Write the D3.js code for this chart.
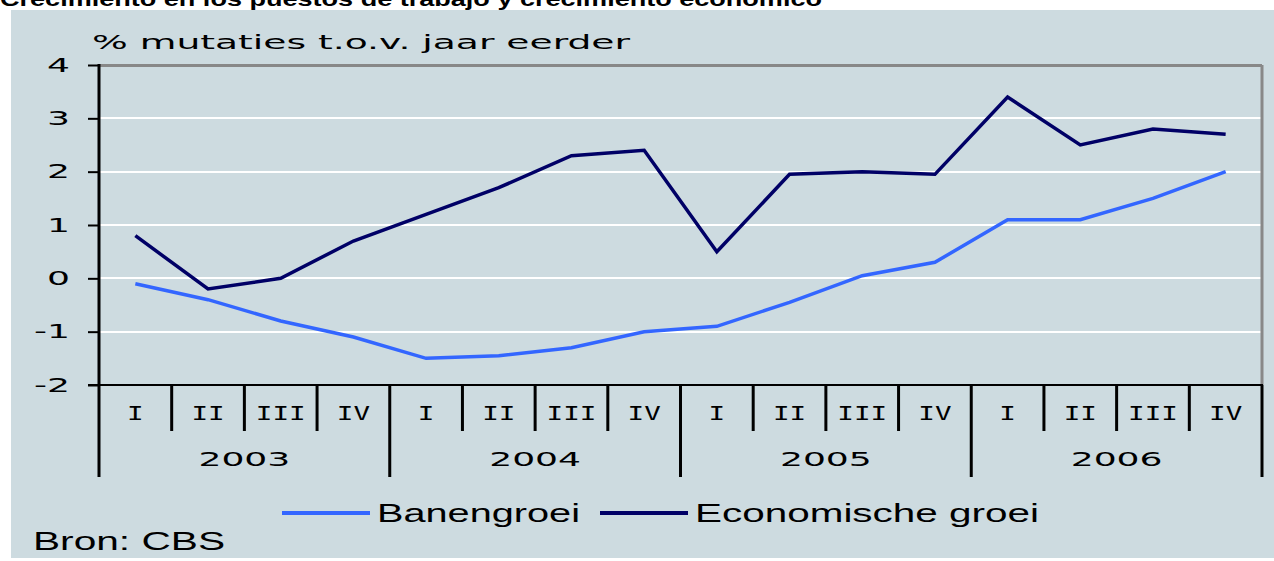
<!DOCTYPE html>
<html>
<head>
<meta charset="utf-8">
<script src="https://cdn.jsdelivr.net/npm/d3@7"></script>
<style>
  body { margin: 0; background: #fff; }
  svg { display: block; }
</style>
</head>
<body>
<script>
// chart data
var quarters = ["I", "II", "III", "IV", "I", "II", "III", "IV",
                "I", "II", "III", "IV", "I", "II", "III", "IV"];
var years = ["2003", "2004", "2005", "2006"];
var banengroei = [-0.1, -0.4, -0.8, -1.1, -1.5, -1.45, -1.3, -1.0,
                  -0.9, -0.45, 0.05, 0.3, 1.1, 1.1, 1.5, 2.0];
var economischeGroei = [0.8, -0.2, 0.0, 0.7, 1.2, 1.7, 2.3, 2.4,
                        0.5, 1.95, 2.0, 1.95, 3.4, 2.5, 2.8, 2.7];
var yTicks = [-2, -1, 0, 1, 2, 3, 4];

var W = 1274, H = 561;
var plot = {left: 99, right: 1262, top: 65, bottom: 385};
var tickFont = "'DejaVu Sans', Verdana, sans-serif";
var monoFont = "'DejaVu Sans Mono', monospace";
var stretchX = 1.9;

var svg = d3.select("body").append("svg")
    .attr("width", W)
    .attr("height", H);

// widen text horizontally, like the stretched original
function stretch(sel, sx) {
  sel.each(function() {
    var len = this.getComputedTextLength();
    d3.select(this)
      .attr("textLength", len * sx)
      .attr("lengthAdjust", "spacingAndGlyphs");
  });
}

// title, mostly cut off at the top (as in the original)
svg.append("text")
    .attr("x", 0)
    .attr("y", 6)
    .attr("font-family", "'Liberation Sans', Arial, sans-serif")
    .attr("font-weight", "bold")
    .attr("font-size", 20)
    .attr("textLength", 822)
    .attr("lengthAdjust", "spacingAndGlyphs")
    .text("Crecimiento en los puestos de trabajo y crecimiento económico");

// grey panel
svg.append("rect")
    .attr("x", 11)
    .attr("y", 10)
    .attr("width", W - 11)
    .attr("height", 548)
    .attr("fill", "#cddbe0");

var xScale = d3.scaleBand()
    .domain(d3.range(quarters.length))
    .range([plot.left, plot.right]);
var yearScale = d3.scaleBand()
    .domain(years)
    .range([plot.left, plot.right]);
var yScale = d3.scaleLinear()
    .domain([-2, 4])
    .range([plot.bottom, plot.top]);

// gridlines
svg.append("g")
    .attr("shape-rendering", "crispEdges")
    .selectAll("line")
    .data(yTicks.filter(function(d) { return d > -2; }))
    .join("line")
    .attr("x1", plot.left)
    .attr("x2", plot.right)
    .attr("y1", function(d) { return yScale(d); })
    .attr("y2", function(d) { return yScale(d); })
    .attr("stroke", function(d) { return d === 4 ? "#888888" : "#ffffff"; })
    .attr("stroke-width", function(d) { return d === 4 ? 3 : 2; });

// right border
svg.append("line")
    .attr("x1", plot.right)
    .attr("x2", plot.right)
    .attr("y1", plot.top)
    .attr("y2", plot.bottom)
    .attr("stroke", "#888888")
    .attr("stroke-width", 3);

// y axis
var yAxis = svg.append("g")
    .attr("transform", "translate(" + plot.left + ",0)")
    .call(d3.axisLeft(yScale)
        .tickValues(yTicks)
        .tickSize(11)
        .tickPadding(18)
        .tickFormat(function(d) { return String(d); }));
yAxis.select(".domain").remove();
yAxis.selectAll(".tick line").attr("stroke", "#000").attr("stroke-width", 2);
yAxis.selectAll(".tick text")
    .attr("font-family", tickFont)
    .attr("font-size", 19)
    .attr("fill", "#000")
    .call(stretch, stretchX);

svg.append("line")
    .attr("x1", plot.left)
    .attr("x2", plot.left)
    .attr("y1", plot.top - 1)
    .attr("y2", 477)
    .attr("stroke", "#000")
    .attr("stroke-width", 3);

// x axis base line
svg.append("line")
    .attr("x1", plot.left - 11)
    .attr("x2", plot.right + 1)
    .attr("y1", plot.bottom)
    .attr("y2", plot.bottom)
    .attr("stroke", "#000")
    .attr("stroke-width", 2);

// quarter separators
svg.append("g")
    .selectAll("line")
    .data(d3.range(1, quarters.length).filter(function(i) { return i % 4 !== 0; }))
    .join("line")
    .attr("x1", function(i) { return xScale(i); })
    .attr("x2", function(i) { return xScale(i); })
    .attr("y1", plot.bottom)
    .attr("y2", 431)
    .attr("stroke", "#000")
    .attr("stroke-width", 3);

// year separators
svg.append("g")
    .selectAll("line")
    .data(years.slice(1).concat(["end"]))
    .join("line")
    .attr("x1", function(d) { return d === "end" ? plot.right : yearScale(d); })
    .attr("x2", function(d) { return d === "end" ? plot.right : yearScale(d); })
    .attr("y1", plot.bottom)
    .attr("y2", 477)
    .attr("stroke", "#000")
    .attr("stroke-width", 3);

// quarter labels
svg.append("g")
    .selectAll("text")
    .data(quarters)
    .join("text")
    .attr("x", function(d, i) { return xScale(i) + xScale.bandwidth() / 2; })
    .attr("y", 420)
    .attr("text-anchor", "middle")
    .attr("font-family", monoFont)
    .attr("font-size", 19)
    .text(function(d) { return d; })
    .call(stretch, 1.45);

// year labels
svg.append("g")
    .selectAll("text")
    .data(years)
    .join("text")
    .attr("x", function(d) { return yearScale(d) + yearScale.bandwidth() / 2; })
    .attr("y", 466)
    .attr("text-anchor", "middle")
    .attr("font-family", tickFont)
    .attr("font-size", 19)
    .text(function(d) { return d; })
    .call(stretch, stretchX);

// axis title
svg.append("text")
    .attr("x", 92)
    .attr("y", 49)
    .attr("font-family", tickFont)
    .attr("font-size", 20)
    .attr("textLength", 538)
    .attr("lengthAdjust", "spacingAndGlyphs")
    .text("% mutaties t.o.v. jaar eerder");

// lines
var line = d3.line()
    .x(function(d, i) { return xScale(i) + xScale.bandwidth() / 2; })
    .y(function(d) { return yScale(d); });

var series = [
  {name: "Banengroei", values: banengroei, color: "#3366ff"},
  {name: "Economische groei", values: economischeGroei, color: "#000066"}
];

svg.append("g")
    .selectAll("path")
    .data(series)
    .join("path")
    .attr("fill", "none")
    .attr("stroke", function(d) { return d.color; })
    .attr("stroke-width", 3.5)
    .attr("stroke-linejoin", "miter")
    .attr("d", function(d) { return line(d.values); });

// legend
var legendPos = [{x: 282, w: 203}, {x: 600, w: 344}];
var legend = svg.append("g")
    .selectAll("g")
    .data(series)
    .join("g")
    .attr("transform", function(d, i) { return "translate(" + legendPos[i].x + ",513)"; });
legend.append("line")
    .attr("x1", 0)
    .attr("x2", 88)
    .attr("stroke", function(d) { return d.color; })
    .attr("stroke-width", 4);
legend.append("text")
    .attr("x", 95)
    .attr("y", 9)
    .attr("font-family", "'Liberation Sans', Arial, sans-serif")
    .attr("font-size", 26)
    .attr("textLength", function(d, i) { return legendPos[i].w; })
    .attr("lengthAdjust", "spacingAndGlyphs")
    .text(function(d) { return d.name; });

// source
svg.append("text")
    .attr("x", 33)
    .attr("y", 550)
    .attr("font-family", "'Liberation Sans', Arial, sans-serif")
    .attr("font-size", 26)
    .attr("textLength", 192)
    .attr("lengthAdjust", "spacingAndGlyphs")
    .text("Bron: CBS");
</script>
</body>
</html>
